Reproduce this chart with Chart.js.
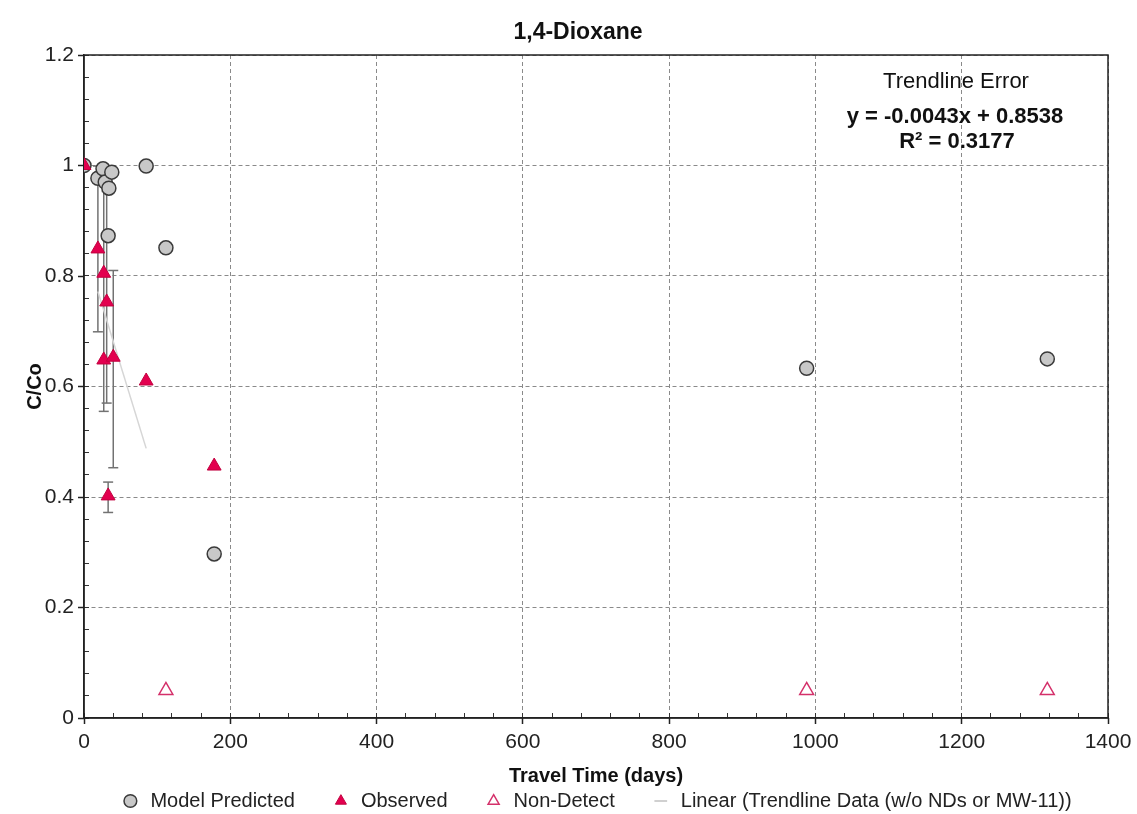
<!DOCTYPE html>
<html><head><meta charset="utf-8">
<script src="https://cdn.jsdelivr.net/npm/chart.js@4.4.1/dist/chart.umd.min.js"></script>
<style>html,body{margin:0;padding:0;background:#fff;}#wrap{width:1137px;height:814px;}</style>
</head><body><div id="wrap"><canvas id="c" width="1137" height="814"></canvas></div>
<script>
// ---- data ----
const chartTitle = '1,4-Dioxane';
const xTitle = 'Travel Time (days)';
const yTitle = 'C/Co';
const xMajorTicks = [0, 200, 400, 600, 800, 1000, 1200, 1400];
const yMajorTicks = [0, 0.2, 0.4, 0.6, 0.8, 1, 1.2];

const modelX = [0, 19, 26, 29, 34, 38, 33, 85, 112, 178, 988, 1317];
const modelY = [1.0, 0.977, 0.994, 0.970, 0.959, 0.988, 0.873, 0.999, 0.851, 0.297, 0.633, 0.650];

const obsX = [0, 19, 27, 31, 27, 40, 33, 85, 178];
const obsY = [1.0, 0.849, 0.805, 0.753, 0.648, 0.653, 0.402, 0.610, 0.456];
const obsErrPlus  = [0, 0.15, 0.17, 0.20, 0, 0.157, 0.025, 0, 0];
const obsErrMinus = [0, 0.15, 0.25, 0.183, 0, 0.20, 0.030, 0, 0];

const ndX = [112, 988, 1317];
const ndY = [0.05, 0.05, 0.05];

const trendX = [19, 85];
const trendY = [0.772, 0.488];

const annoTitle = 'Trendline Error';
const annoEq = 'y = -0.0043x + 0.8538';
const annoR2 = 'R² = 0.3177';

// ---- chart ----
const FONT = '"Liberation Sans", Arial, Helvetica, sans-serif';
Chart.defaults.font.family = FONT;
Chart.defaults.color = '#222';

const pts = (xs, ys) => xs.map((x, i) => ({x, y: ys[i]}));

const errSets = [];
obsX.forEach((x, i) => {
  if (obsErrPlus[i] > 0 || obsErrMinus[i] > 0) {
    errSets.push({
      label: 'err', isErr: true,
      data: [{x, y: obsY[i] - obsErrMinus[i]}, {x, y: obsY[i] + obsErrPlus[i]}],
      showLine: true, borderColor: '#727272', borderWidth: 1.5,
      pointStyle: 'line', pointRadius: 5, pointBorderColor: '#727272', pointBorderWidth: 1.5,
      order: 6
    });
  }
});

const datasets = [
  { label: 'Observed', legendRank: 1, data: pts(obsX, obsY), pointStyle: 'triangle', pointRadius: 8,
    backgroundColor: '#e3004f', borderColor: '#c2003f', borderWidth: 1, order: 1 },
  { label: 'Model Predicted', legendRank: 0, data: pts(modelX, modelY), pointStyle: 'circle', pointRadius: 7,
    backgroundColor: '#c8c8c8', borderColor: '#3a3a3a', borderWidth: 1.5, order: 2 },
  { label: 'Non-Detect', legendRank: 2, data: pts(ndX, ndY), pointStyle: 'triangle', pointRadius: 8,
    backgroundColor: 'rgba(255,255,255,0)', borderColor: '#d4306a', borderWidth: 1.5, order: 3 },
  { label: 'Linear (Trendline Data (w/o NDs or MW-11))', legendRank: 3, data: pts(trendX, trendY),
    showLine: true, borderColor: '#d6d6d6', borderWidth: 1.5, pointRadius: 0, pointStyle: 'line',
    pointBorderColor: '#d0d0d0', pointBackgroundColor: '#d0d0d0', pointBorderWidth: 2, order: 4 },
  ...errSets
];

const near = (v, arr) => arr.some(t => Math.abs(t - v) < 1e-6);

const framePlugin = {
  id: 'frame',
  beforeDatasetsDraw(chart) {
    const {ctx, chartArea: a} = chart;
    ctx.save();
    ctx.strokeStyle = '#222'; ctx.lineWidth = 1.5;
    ctx.strokeRect(a.left, a.top, a.right - a.left, a.bottom - a.top);
    ctx.restore();
  },
  afterDraw(chart) {
    const {ctx} = chart;
    ctx.save();
    ctx.fillStyle = '#111'; ctx.textAlign = 'center'; ctx.textBaseline = 'middle';
    ctx.font = 'bold 23px ' + FONT;
    ctx.fillText(chartTitle, 578, 33);
    ctx.font = '22px ' + FONT;
    ctx.fillText(annoTitle, 956, 82);
    ctx.font = 'bold 22px ' + FONT;
    ctx.fillText(annoEq, 955, 117);
    ctx.fillText(annoR2, 957, 142);
    ctx.restore();
  }
};

new Chart(document.getElementById('c'), {
  type: 'scatter',
  data: { datasets },
  options: {
    responsive: false, animation: false,
    layout: { padding: { left: 0, right: 29, top: 55, bottom: 0 } },
    plugins: {
      tooltip: { enabled: false },
      title: { display: false },
      legend: {
        position: 'bottom', fullSize: false, maxHeight: 59,
        labels: {
          usePointStyle: true, boxWidth: 20, boxHeight: 9, padding: 36,
          font: { size: 20 }, color: '#222',
          filter: (item, data) => !data.datasets[item.datasetIndex].isErr,
          sort: (a, b, data) => data.datasets[a.datasetIndex].legendRank - data.datasets[b.datasetIndex].legendRank
        }
      }
    },
    scales: {
      x: {
        type: 'linear', min: 0, max: 1400, weight: 0,
        afterFit: s => { s.height = 37; s.paddingRight = 24; s.paddingLeft = 6; },
        ticks: {
          stepSize: 40, autoSkip: false, maxRotation: 0, padding: 17,
          font: { size: 21 }, color: '#222',
          callback: v => near(v, xMajorTicks) ? String(v) : ''
        },
        grid: {
          color: c => (near(c.tick.value, xMajorTicks) && c.tick.value !== 0) ? '#8a8a8a' : 'rgba(0,0,0,0)',
          tickColor: '#333', tickLength: -5, lineWidth: 1
        },
        border: { display: true, color: '#222', width: 1.5, dash: [4, 3] },
        title: { display: true, text: xTitle, font: { size: 20, weight: 'bold' }, color: '#111',
                 padding: { top: 0, bottom: -33 } }
      },
      xMajor: {
        type: 'linear', position: 'bottom', min: 0, max: 1400, weight: -1,
        afterFit: s => { s.height = 0; s.paddingRight = 0; s.paddingLeft = 0; },
        ticks: { display: false, stepSize: 200 },
        grid: { drawOnChartArea: false, drawTicks: true, tickLength: 6, tickColor: '#222', tickWidth: 1.5 },
        border: { display: false }
      },
      y: {
        type: 'linear', min: 0, max: 1.2, weight: 0,
        afterFit: s => { s.width = 84; },
        ticks: {
          stepSize: 0.04, autoSkip: false, padding: 15,
          font: { size: 21 }, color: '#222',
          callback: v => near(v, yMajorTicks) ? String(Math.round(v * 10) / 10) : ''
        },
        grid: {
          color: c => (near(c.tick.value, yMajorTicks) && c.tick.value !== 0) ? '#8a8a8a' : 'rgba(0,0,0,0)',
          tickColor: '#333', tickLength: -5, lineWidth: 1
        },
        border: { display: true, color: '#222', width: 1.5, dash: [4, 3] },
        title: { display: true, text: yTitle, font: { size: 20, weight: 'bold' }, color: '#111',
                 padding: { top: 23, bottom: 0 } }
      },
      yMajor: {
        type: 'linear', position: 'left', min: 0, max: 1.2, weight: -1,
        afterFit: s => { s.width = 0; s.paddingTop = 0; s.paddingBottom = 0; },
        ticks: { display: false, stepSize: 0.2 },
        grid: { drawOnChartArea: false, drawTicks: true, tickLength: 6, tickColor: '#222', tickWidth: 1.5 },
        border: { display: false }
      }
    }
  },
  plugins: [framePlugin]
});
</script></body></html>
